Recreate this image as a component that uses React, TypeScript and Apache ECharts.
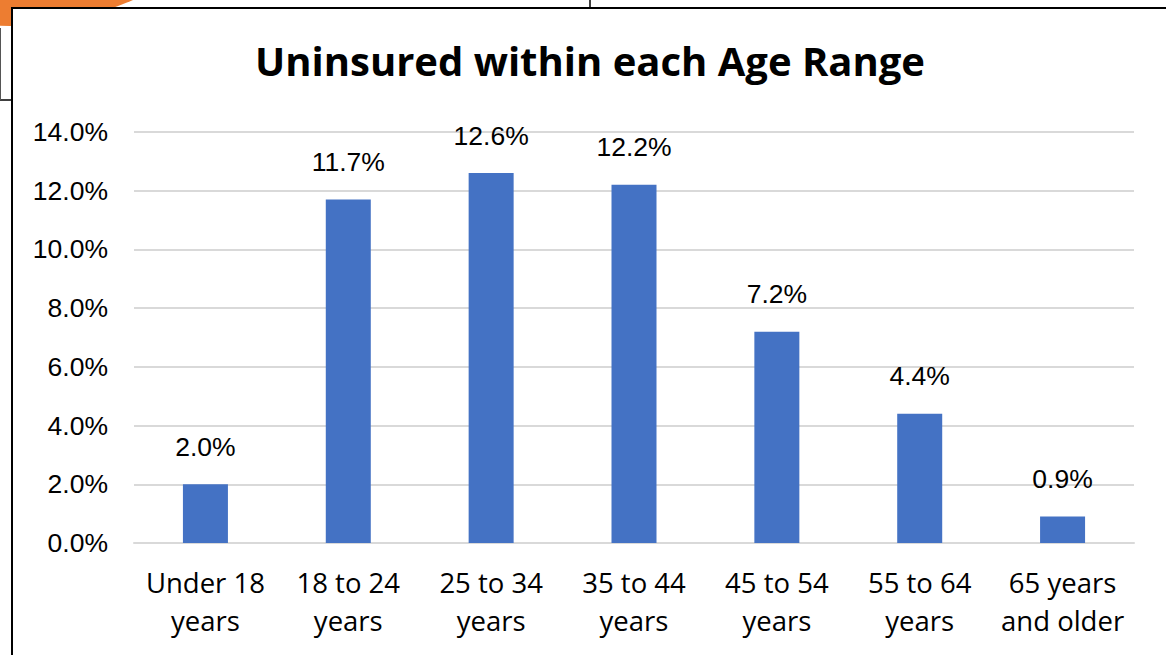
import React, { useEffect, useRef } from "react";
import * as echarts from "echarts";

const categories = [
  "Under 18\nyears",
  "18 to 24\nyears",
  "25 to 34\nyears",
  "35 to 44\nyears",
  "45 to 54\nyears",
  "55 to 64\nyears",
  "65 years\nand older",
];
const uninsuredPct = [2.0, 11.7, 12.6, 12.2, 7.2, 4.4, 0.9];
const yTicks = { min: 0, max: 14, interval: 2 };
const titleText = "Uninsured within each Age Range";

export default function App() {
  const ref = useRef<HTMLDivElement>(null);
  useEffect(() => {
    if (!ref.current) return;
    const chart = echarts.init(ref.current, null, { renderer: "svg" });
    chart.setOption({
      animation: false,
      backgroundColor: "#ffffff",
      graphic: [
        {
          type: "circle",
          z: -20,
          silent: true,
          shape: { cx: 10, cy: -278, r: 304 },
          style: { fill: "#ED7D31" },
        },
        {
          type: "rect",
          z: -15,
          silent: true,
          shape: { x: 12, y: 8, width: 1200, height: 700 },
          style: { fill: "#ffffff", stroke: "#000000", lineWidth: 2 },
        },
        {
          type: "line",
          z: -14,
          silent: true,
          shape: { x1: 590, y1: 0, x2: 590, y2: 8 },
          style: { stroke: "#000000", lineWidth: 1.5 },
        },
        {
          type: "line",
          z: -14,
          silent: true,
          shape: { x1: 0, y1: 100, x2: 12, y2: 100 },
          style: { stroke: "#000000", lineWidth: 1.5 },
        },
        {
          type: "line",
          z: -14,
          silent: true,
          shape: { x1: 0.5, y1: 28, x2: 0.5, y2: 100 },
          style: { stroke: "#555555", lineWidth: 1 },
        },
        {
          type: "text",
          z: 10,
          x: 590,
          y: 40,
          style: {
            text: titleText,
            fill: "#000000",
            font: 'bold 40px "Open Sans"',
            textAlign: "center",
            textVerticalAlign: "top",
          },
        },
      ],
      grid: { left: 134, right: 32, top: 132, bottom: 112, containLabel: false },
      xAxis: {
        type: "category",
        data: categories,
        axisLine: { show: true, lineStyle: { color: "#D9D9D9", width: 2 } },
        axisTick: { show: false },
        axisLabel: {
          color: "#000000",
          fontFamily: "Open Sans",
          fontSize: 27.5,
          lineHeight: 38,
          margin: 20,
          interval: 0,
        },
      },
      yAxis: {
        type: "value",
        min: yTicks.min,
        max: yTicks.max,
        interval: yTicks.interval,
        axisLine: { show: false },
        axisTick: { show: false },
        splitLine: { lineStyle: { color: "#D9D9D9", width: 2 } },
        axisLabel: {
          color: "#000000",
          fontFamily: "Liberation Sans",
          fontSize: 26.5,
          margin: 26,
          formatter: (v: number) => v.toFixed(1) + "%",
        },
      },
      series: [
        {
          type: "bar",
          data: uninsuredPct,
          barWidth: 45,
          itemStyle: { color: "#4472C4" },
          label: {
            show: true,
            position: "top",
            distance: 24,
            color: "#000000",
            fontFamily: "Liberation Sans",
            fontSize: 26.5,
            formatter: (p: any) => Number(p.value).toFixed(1) + "%",
          },
        },
      ],
    });
    return () => chart.dispose();
  }, []);
  return (
    <div
      ref={ref}
      style={{ position: "fixed", left: 0, top: 0, width: 1166, height: 655 }}
    />
  );
}
